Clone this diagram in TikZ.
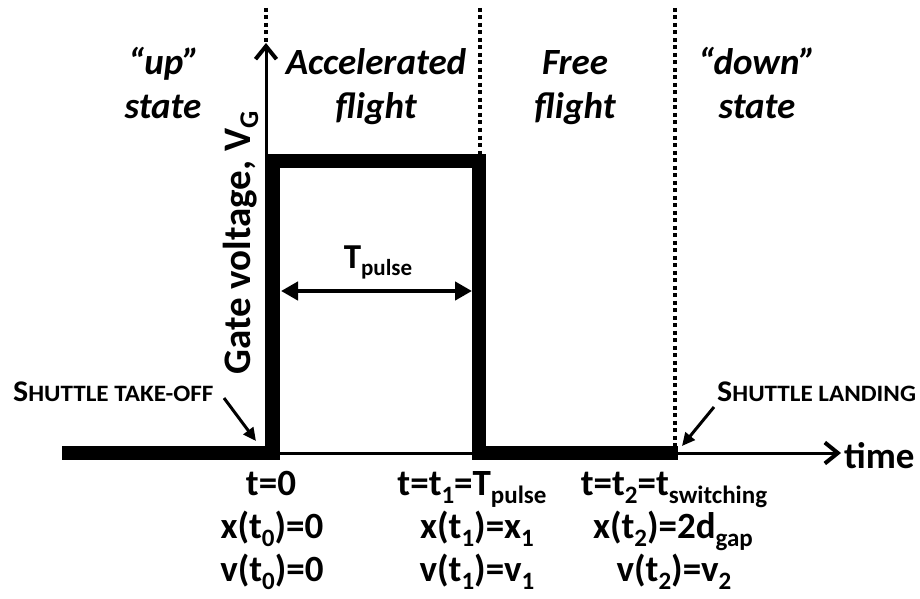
\documentclass[tikz,border=0pt]{standalone}
\usepackage{fontspec}
\setmainfont{Carlito}
\usetikzlibrary{arrows.meta}
\newcommand\lsub[1]{\raisebox{-8pt}{\fontsize{25}{25}\selectfont #1}}
\newcommand\tsub[1]{\raisebox{-7pt}{\fontsize{23}{23}\selectfont #1}}
\newcommand\gsub[1]{\raisebox{-8pt}{\fontsize{27}{27}\selectfont #1}}
\newcommand\fakesc[1]{\scalebox{1.07}[1]{{\fontsize{30}{32}\selectfont S}{\fontsize{23.5}{26}\selectfont #1}}}
\begin{document}
\begin{tikzpicture}[x=1pt,y=-1pt,
  big/.style={font=\fontsize{37}{43}\selectfont\bfseries, inner sep=0pt},
  region/.style={font=\fontsize{37}{43}\selectfont\bfseries\itshape, inner sep=0pt},
  note/.style={font=\bfseries, inner sep=0pt},
  pulse/.style={line width=14pt, line join=miter, line cap=butt},
  axis/.style={line width=3pt, -{Straight Barb[length=13pt,width=21pt,line width=4pt]}},
  bound/.style={line width=3.5pt, dash pattern=on 4pt off 3.5pt},
  pointer/.style={line width=3pt, -{Triangle[length=13pt,width=12pt]}},
  span/.style={line width=4.5pt, {Triangle[length=17pt,width=18pt]}-{Triangle[length=17pt,width=18pt]}}
]
\path[use as bounding box] (0,0) rectangle (920,599);

% coordinates
\coordinate (p0) at (62,453);
\coordinate (p1) at (273,453);
\coordinate (p2) at (273,161);
\coordinate (p3) at (479,161);
\coordinate (p4) at (479,453);
\coordinate (p5) at (678,453);
\coordinate (o) at (266,453);
\coordinate (ytip) at (266,43);
\coordinate (xtip) at (841,453);
\coordinate (d1a) at (266,8);
\coordinate (d1b) at (266,43);
\coordinate (d2a) at (480,8);
\coordinate (d2b) at (480,154);
\coordinate (d3a) at (675,8);
\coordinate (d3b) at (675,453);

% dotted boundaries
\draw[bound] (d1a) -- (d1b);
\draw[bound] (d2a) -- (d2b);
\draw[bound] (d3a) -- (d3b);

% axes
\draw[axis] (o) -- (ytip);
\draw[axis] (o) -- (xtip);

% pulse
\draw[pulse] (p0) -- (p1) -- (p2) -- (p3) -- (p4) -- (p5);

% T pulse
\coordinate (sa) at (281,291);
\coordinate (sb) at (472,291);
\draw[span] (sa) -- (sb);
\node[note, font=\fontsize{35}{36}\selectfont\bfseries, anchor=base] (tp) at (378,268) {T\tsub{pulse}};

% axis labels
\node[big, anchor=base west] (time) at (844,468) {time};
\node[big, font=\fontsize{39}{43}\selectfont\bfseries, rotate=90, anchor=base] (vg) at (250,243) {Gate voltage, V\gsub{G}};

% region labels
\node[region, anchor=base] (up1) at (164,75) {“up”};
\node[region, anchor=base] (up2) at (163,119) {state};
\node[region, anchor=base] (ac1) at (376,75) {Accelerated};
\node[region, anchor=base] (ac2) at (376,119) {flight};
\node[region, anchor=base] (fr1) at (575,75) {Free};
\node[region, anchor=base] (fr2) at (575,119) {flight};
\node[region, anchor=base] (dn1) at (757,75) {“down”};
\node[region, anchor=base] (dn2) at (757,119) {state};

% shuttle notes
\node[note, anchor=base west] (to) at (13,401) {\fakesc{HUTTLE TAKE-OFF}};
\node[note, anchor=base west] (ld) at (717,401) {\fakesc{HUTTLE LANDING}};
\coordinate (toa) at (224,398);
\coordinate (tob) at (256,441);
\coordinate (lda) at (714,407);
\coordinate (ldb) at (682,446);
\draw[pointer] (toa) -- (tob);
\draw[pointer] (lda) -- (ldb);

% bottom labels
\node[big, anchor=base] (a1) at (271,495) {t=0};
\node[big, anchor=base] (a2) at (272,538) {x(t\lsub{0})=0};
\node[big, anchor=base] (a3) at (272,581) {v(t\lsub{0})=0};
\node[big, anchor=base] (b1) at (472,495) {t=t\lsub{1}=T\lsub{pulse}};
\node[big, anchor=base] (b2) at (477,538) {x(t\lsub{1})=x\lsub{1}};
\node[big, anchor=base] (b3) at (477,581) {v(t\lsub{1})=v\lsub{1}};
\node[big, anchor=base] (c1) at (674,495) {t=t\lsub{2}=t\lsub{switching}};
\node[big, anchor=base] (c2) at (673,538) {x(t\lsub{2})=2d\lsub{gap}};
\node[big, anchor=base] (c3) at (674,581) {v(t\lsub{2})=v\lsub{2}};
\end{tikzpicture}
\end{document}
